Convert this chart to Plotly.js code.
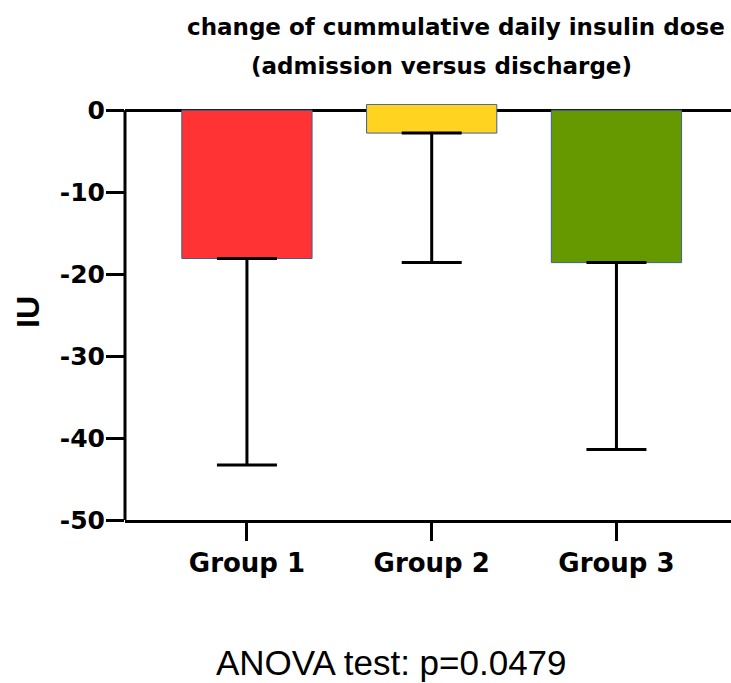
<!DOCTYPE html>
<html>
<head>
<meta charset="utf-8">
<script src="https://cdn.plot.ly/plotly-3.0.1.min.js"></script>
<style>html,body{margin:0;padding:0;background:#fff;}#chart{width:731px;height:683px;}</style>
</head>
<body>
<div id="chart"></div>
<script>
// Data
const groups = ["Group 1", "Group 2", "Group 3"];
const barStart = [0, 0.7, 0];            // where each bar begins (IU)
const barEnd = [-18.1, -2.8, -18.6];      // mean change (IU)
const errMinus = [25.2, 15.8, 22.8];      // lower error bar length (IU)
const errPlus = [0, 0, 0];
const barColors = ["#FF3333", "#FFD320", "#669900"];
const yTickVals = [0, -10, -20, -30, -40, -50];
const yTickText = ["0", "-10", "-20", "-30", "-40", "-50"];
const titleLine1 = "change of cummulative daily insulin dose";
const titleLine2 = "(admission versus discharge)";
const noteText = "ANOVA test: p=0.0479";

const boldFont = "DejaVu Sans, Verdana, sans-serif";

const trace = {
  type: "bar",
  x: groups,
  base: barStart,
  y: barEnd.map((v, i) => v - barStart[i]),
  width: 0.705,
  marker: { color: barColors, line: { color: "#3f5f95", width: 1 } },
  error_y: {
    type: "data", symmetric: false,
    array: errPlus, arrayminus: errMinus,
    color: "#000", thickness: 3, width: 30
  },
  hoverinfo: "skip"
};

const layout = {
  width: 731, height: 683,
  margin: { l: 125, r: 0, t: 104, b: 163, pad: 0 },
  paper_bgcolor: "#fff", plot_bgcolor: "#fff",
  showlegend: false,
  xaxis: {
    type: "category",
    range: [-0.66, 2.62],
    showline: true, linecolor: "#000", linewidth: 3,
    ticks: "outside", ticklen: 18, tickwidth: 3, tickcolor: "#000",
    showgrid: false, zeroline: false,
    tickfont: { family: boldFont, size: 26, color: "#000", weight: "bold" }
  },
  yaxis: {
    range: [-50, 0.75],
    tickvals: yTickVals, ticktext: yTickText,
    showline: false,
    ticks: "outside", ticklen: 18, tickwidth: 3, tickcolor: "#000",
    ticklabelstandoff: -4,
    showgrid: false,
    zeroline: true, zerolinecolor: "#000", zerolinewidth: 3,
    tickfont: { family: boldFont, size: 25, color: "#000", weight: "bold" },
    title: { text: "IU", standoff: 10,
      font: { family: "Liberation Sans, Arial, sans-serif", size: 32, color: "#000", weight: "bold" } }
  },
  shapes: [
    { type: "line", xref: "paper", yref: "y", x0: 0, x1: 0, y0: -50, y1: 0,
      line: { color: "#000", width: 3 }, layer: "above" }
  ],
  annotations: [
    { text: titleLine1, xref: "paper", yref: "paper", x: 0.547, y: 1.185,
      xanchor: "center", yanchor: "middle", showarrow: false,
      font: { family: boldFont, size: 23, color: "#000", weight: "bold" } },
    { text: titleLine2, xref: "paper", yref: "paper", x: 0.5215, y: 1.091,
      xanchor: "center", yanchor: "middle", showarrow: false,
      font: { family: boldFont, size: 23, color: "#000", weight: "bold" } },
    { text: noteText, xref: "paper", yref: "paper", x: 0.439, y: -0.343,
      xanchor: "center", yanchor: "middle", showarrow: false,
      font: { family: "Liberation Sans, Arial, sans-serif", size: 35, color: "#000" } }
  ]
};

Plotly.newPlot("chart", [trace], layout, { displayModeBar: false, staticPlot: true });
</script>
</body>
</html>
